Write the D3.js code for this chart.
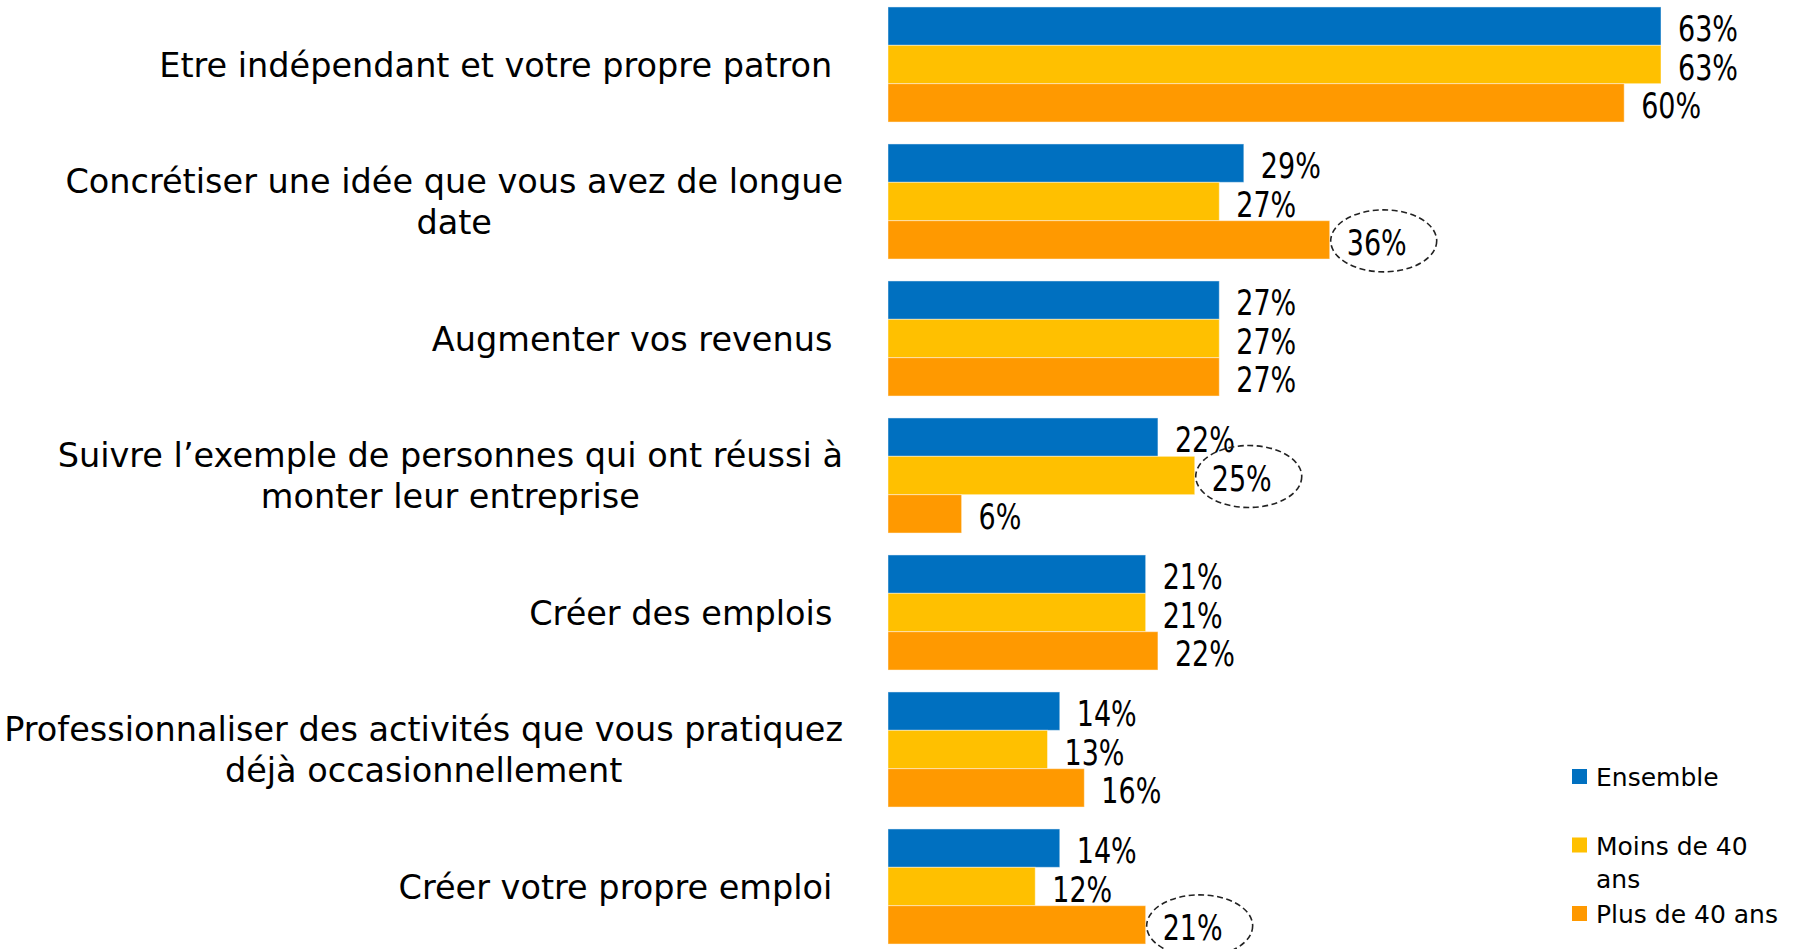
<!DOCTYPE html>
<html>
<head>
<meta charset="utf-8">
<script src="https://cdn.jsdelivr.net/npm/d3@7"></script>
<style>
  body { margin: 0; background: #fff; }
  svg { display: block; }
</style>
</head>
<body>
<div id="chart"></div>
<script>
// chart data
const categories = [
    ["Etre indépendant et votre propre patron "],
    ["Concrétiser une idée que vous avez de longue", "date"],
    ["Augmenter vos revenus "],
    ["Suivre l’exemple de personnes qui ont réussi à", "monter leur entreprise"],
    ["Créer des emplois "],
    ["Professionnaliser des activités que vous pratiquez", "déjà occasionnellement"],
    ["Créer votre propre emploi "]
]
const seriesKeys   = ["Ensemble", "Moins de 40 ans", "Plus de 40 ans"]
const legendLines  = [["Ensemble"], ["Moins de 40", "ans"], ["Plus de 40 ans"]]
const ensemble     = [63, 29, 27, 22, 21, 14, 14]
const moins40      = [63, 27, 27, 25, 21, 13, 12]
const plus40       = [60, 36, 27, 6, 22, 16, 21]
// circled values: [category index, series index]
const highlights   = [[1, 2], [3, 1], [6, 2]]

const WIDTH = 1801, HEIGHT = 949
const COLORS = ["#0070C0", "#FFC000", "#FF9900"]
const LABEL_FONT = "'DejaVu Sans', Verdana, sans-serif"

const values = [ensemble, moins40, plus40]
const rows = categories.map((c, i) => ({
    idx: i,
    lines: c,
    vals: values.map((s, k) => ({key: seriesKeys[k], k: k, i: i, v: s[i]}))
}))

const svg = d3.select("#chart")
    .append("svg")
        .attr("width", WIDTH)
        .attr("height", HEIGHT)

// scales
const x = d3.scaleLinear()
    .domain([0, 63])
    .range([888, 1661])

const y = d3.scaleBand()
    .domain(d3.range(categories.length))
    .range([-4, 955])
    .paddingInner(0.16)
    .paddingOuter(0.08)

const ySub = d3.scaleBand()
    .domain(d3.range(seriesKeys.length))
    .range([0, y.bandwidth()])

const color = d3.scaleOrdinal()
    .domain(seriesKeys)
    .range(COLORS)

// bars
const groups = svg.selectAll("g.group")
    .data(rows)
    .join("g")
        .attr("class", "group")
        .attr("transform", d => `translate(0, ${y(d.idx)})`)

groups.selectAll("rect")
    .data(d => d.vals)
    .join("rect")
        .attr("x", x(0))
        .attr("y", d => ySub(d.k))
        .attr("width", d => x(d.v) - x(0))
        .attr("height", ySub.bandwidth())
        .style("fill", d => color(d.key))
        .style("stroke", "#fff")
        .style("stroke-opacity", 0.45)
        .style("stroke-width", 1)

// value labels (condensed look)
groups.selectAll("g.val")
    .data(d => d.vals)
    .join("g")
        .attr("class", "val")
        .attr("transform", d => `translate(${x(d.v) + 17}, ${ySub(d.k) + ySub.bandwidth() / 2 + 15}) scale(0.75, 1)`)
    .append("text")
        .style("font-family", LABEL_FONT)
        .style("font-size", "36px")
        .style("fill", "#000")
        .text(d => d.v + "%")

// dashed ellipses
const hl = highlights.map(([i, k]) => ({i: i, k: k, v: values[k][i]}))
svg.selectAll("ellipse.hl")
    .data(hl)
    .join("ellipse")
        .attr("class", "hl")
        .attr("cx", d => x(d.v) + 54)
        .attr("cy", d => y(d.i) + ySub(d.k) + ySub.bandwidth() / 2 + 1)
        .attr("rx", 53)
        .attr("ry", 31)
        .style("fill", "none")
        .style("stroke", "#222")
        .style("stroke-width", 1.6)
        .style("stroke-dasharray", "6,3.5")

// category labels, right aligned block with centered lines
const RIGHT = 843, LINE_H = 41.5
svg.selectAll("g.cat")
    .data(rows)
    .join("g")
        .attr("class", "cat")
        .each(function(d) {
            const g = d3.select(this)
            const cy = y(d.idx) + y.bandwidth() / 2
            const texts = g.selectAll("text")
                .data(d.lines)
                .join("text")
                    .style("font-family", LABEL_FONT)
                    .style("font-size", "33.5px")
                    .style("white-space", "pre")
                    .style("fill", "#000")
                    .attr("text-anchor", "middle")
                    .attr("y", (t, j) => cy + (j - (d.lines.length - 1) / 2) * LINE_H + 12)
                    .text(t => t)
            let maxW = 0
            texts.each(function() { maxW = Math.max(maxW, this.getComputedTextLength()) })
            texts.attr("x", RIGHT - maxW / 2)
        })

// legend
const legend = svg.append("g")
    .attr("transform", "translate(1572, 769)")

const legendItems = legend.selectAll("g")
    .data(seriesKeys)
    .join("g")
        .attr("transform", (d, i) => `translate(0, ${i * 68.5})`)

legendItems.append("rect")
    .attr("width", 15)
    .attr("height", 15)
    .style("fill", d => color(d))

legendItems.append("text")
    .style("font-family", LABEL_FONT)
    .style("font-size", "25px")
    .style("fill", "#000")
    .selectAll("tspan")
    .data((d, i) => legendLines[i])
    .join("tspan")
        .attr("x", 24)
        .attr("y", (t, j) => 17 + j * 33)
        .text(t => t)
</script>
</body>
</html>
